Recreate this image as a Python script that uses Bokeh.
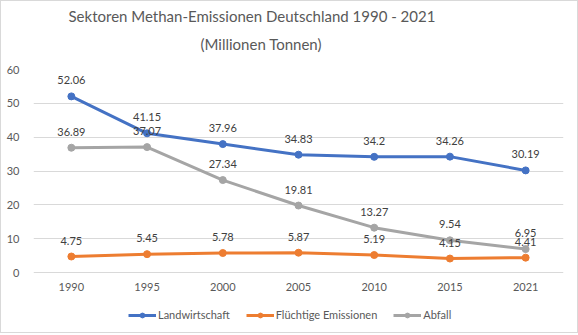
from bokeh.plotting import figure
from bokeh.models import ColumnDataSource, LabelSet, Legend, LegendItem, Title
from bokeh.embed import file_html
from bokeh.resources import INLINE
from bokeh.core.properties import value

years = ["1990", "1995", "2000", "2005", "2010", "2015", "2021"]
landwirtschaft = [52.06, 41.15, 37.96, 34.83, 34.2, 34.26, 30.19]
fluechtige = [4.75, 5.45, 5.78, 5.87, 5.19, 4.15, 4.41]
abfall = [36.89, 37.07, 27.34, 19.81, 13.27, 9.54, 6.95]
series_names = ["Landwirtschaft", "Flüchtige Emissionen", "Abfall"]
series_values = [landwirtschaft, fluechtige, abfall]
colors = ["#4472C4", "#ED7D31", "#A5A5A5"]
y_ticks = [0, 10, 20, 30, 40, 50, 60]
title_line1 = "Sektoren Methan-Emissionen Deutschland 1990 - 2021"
title_line2 = "(Millionen Tonnen)"

FONT = "Lato"

# y range extends below 0 to leave room (inside the frame) for the
# category labels and the legend
p = figure(x_range=years, y_range=(-17.7, 60),
           frame_width=530, frame_height=263,
           output_backend="svg", toolbar_location=None,
           min_border_left=32, min_border_right=14, min_border_top=0,
           min_border_bottom=0,
           styles={"border": "1px solid #D9D9D9"})

def style_title(t, offset):
    t.align = "left"
    t.offset = offset
    t.text_font = FONT
    t.text_font_style = "normal"
    t.text_font_size = "15px"
    t.text_color = "#595959"

p.title.text = title_line1
style_title(p.title, 35)
p.title.standoff = 6

spacer = Title(text=" ", text_font_size="8.5px", text_font=FONT, standoff=0)
p.add_layout(spacer, "above")
t2 = Title(text=title_line2)
style_title(t2, 167)
t2.standoff = 10
p.add_layout(t2, "above")

p.outline_line_color = None
p.xgrid.grid_line_color = None
p.ygrid.grid_line_color = "#D9D9D9"
p.ygrid.grid_line_width = 1

for ax in (p.xaxis, p.yaxis):
    ax.axis_line_color = None
    ax.major_tick_line_color = None
    ax.minor_tick_line_color = None
    ax.major_label_text_font = FONT
    ax.major_label_text_font_size = "11px"
    ax.major_label_text_color = "#595959"
p.yaxis.ticker = y_ticks
p.yaxis.major_label_standoff = 8
p.xaxis.fixed_location = 0
p.xaxis.major_label_standoff = 4

items = []
sources = []
for name, vals, col in zip(series_names, series_values, colors):
    src = ColumnDataSource(dict(x=years, y=vals, t=[str(v) for v in vals]))
    l = p.line("x", "y", source=src, line_color=col, line_width=3)
    s = p.scatter("x", "y", source=src, size=7, fill_color=col, line_color=col)
    items.append(LegendItem(label=name, renderers=[l, s]))
    sources.append(src)

for src in sources:
    lbl = LabelSet(x="x", y="y", text="t", source=src, y_offset=16,
                   text_align="center", text_baseline="middle",
                   text_font=value(FONT), text_font_size="11px",
                   text_color="#404040")
    p.add_layout(lbl)

legend = Legend(items=items, orientation="horizontal", location=(95, 11),
                border_line_color=None, background_fill_alpha=0,
                label_text_font=FONT, label_text_font_size="11px",
                label_text_color="#595959", glyph_width=28, glyph_height=12,
                label_standoff=2, spacing=16, padding=0, margin=0)
p.add_layout(legend, "center")

open("out.html", "w").write(file_html(p, INLINE))
